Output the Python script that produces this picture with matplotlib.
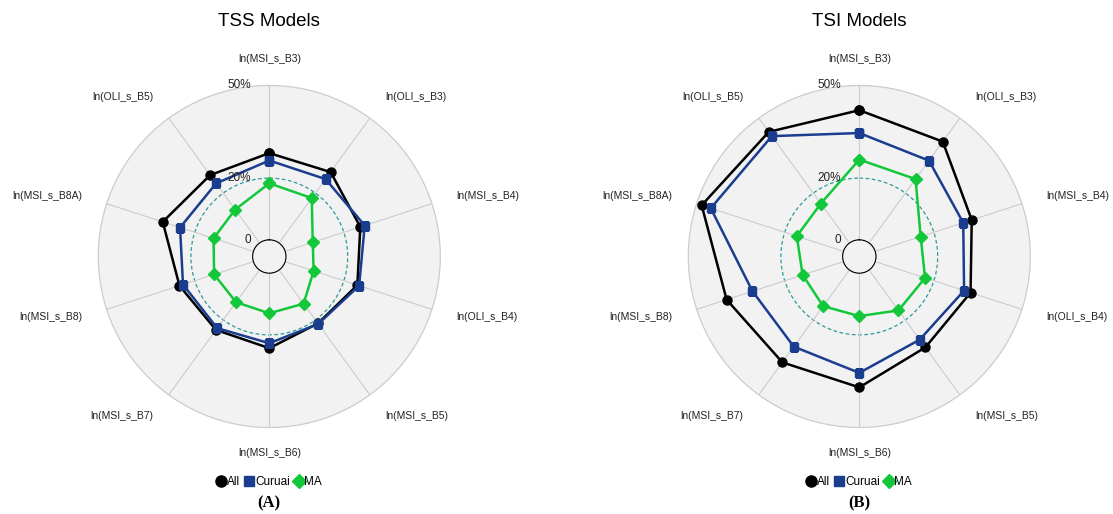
import numpy as np
import matplotlib
matplotlib.use("Agg")
import matplotlib.pyplot as plt
from matplotlib.lines import Line2D
from matplotlib.patches import Ellipse

plt.rcParams['font.family'] = ['Liberation Sans', 'DejaVu Sans']

# categories, clockwise from the top
categories = ['ln(MSI_s_B3)', 'ln(OLI_s_B3)', 'ln(MSI_s_B4)', 'ln(OLI_s_B4)',
              'ln(MSI_s_B5)', 'ln(MSI_s_B6)', 'ln(MSI_s_B7)', 'ln(MSI_s_B8)',
              'ln(MSI_s_B8A)', 'ln(OLI_s_B5)']

# TSS models (%)
tss_all = [28.1, 28.4, 25.6, 24.6, 21.4, 24.3, 24.0, 25.2, 30.9, 27.2]
tss_curuai = [25.7, 25.6, 27.1, 25.2, 21.6, 22.7, 23.3, 24.0, 25.0, 23.9]
tss_ma = [18.3, 18.0, 9.4, 9.7, 13.5, 13.0, 12.9, 13.4, 13.6, 13.4]

# TSI models (%)
tsi_all = [42.0, 40.6, 32.9, 32.5, 31.0, 37.0, 37.0, 39.8, 48.3, 44.5]
tsi_curuai = [34.6, 33.0, 30.0, 30.3, 27.9, 32.3, 30.7, 31.0, 45.2, 42.8]
tsi_ma = [26.0, 25.6, 15.5, 17.0, 16.2, 13.9, 14.5, 13.9, 15.9, 15.8]

col_all = '#000000'
col_cur = '#1b3d8f'
col_ma = '#12c83a'

W, H = 1113, 514
fig = plt.figure(figsize=(W / 100, H / 100), dpi=100)

R_PX = 171.0
RMAX = 50.0
RORIG = -5.4


def radar(cx, cy, title, s_all, s_cur, s_ma, tag):
    # grey disc behind the whole radar (also fills the inner hole)
    fig.add_artist(Ellipse((cx / W, 1 - cy / H), 2 * R_PX / W, 2 * R_PX / H,
                           transform=fig.transFigure, facecolor='#f2f2f2',
                           edgecolor='none', zorder=0))

    ax = fig.add_axes([(cx - R_PX) / W, (H - cy - R_PX) / H, 2 * R_PX / W, 2 * R_PX / H],
                      projection='polar')
    ax.set_theta_zero_location('N')
    ax.set_theta_direction(-1)
    ax.set_ylim(0, RMAX)
    ax.set_rorigin(RORIG)
    ax.set_facecolor('none')

    n = len(categories)
    theta = np.arange(n) * 2 * np.pi / n
    ax.set_xticks(theta)
    ax.set_xticklabels([])
    ax.set_yticks([])
    ax.grid(True, axis='x', color='#cccccc', linewidth=0.8)
    ax.spines['polar'].set_color('#cccccc')
    ax.spines['polar'].set_linewidth(0.9)
    ax.spines['inner'].set_visible(False)

    circ = np.linspace(0, 2 * np.pi, 300)
    ax.plot(circ, np.zeros_like(circ), color='#cccccc', lw=0.9, zorder=1)
    ax.plot(circ, np.full_like(circ, 20), color='#2f9a9a', lw=0.9,
            linestyle=(0, (3, 2)), zorder=1)

    tc = np.append(theta, theta[0])
    for vals, col, mk, ms in [(s_all, col_all, 'o', 6.5),
                              (s_cur, col_cur, 's', 6.0),
                              (s_ma, col_ma, 'D', 6.0)]:
        v = np.append(vals, vals[0])
        ax.plot(tc, v, color=col, lw=1.8, marker=mk, markersize=ms, zorder=3)

    for r, lab in [(0, '0'), (20, '20%'), (50, '50%')]:
        ax.annotate(lab, xy=(0, r), xytext=(-13, 0), textcoords='offset points',
                    ha='right', va='center', fontsize=8.5, color='#222222',
                    annotation_clip=False, zorder=4)

    r_lab = RORIG + (197.0 / R_PX) * (RMAX - RORIG)
    for t, lab in zip(theta, categories):
        s = np.sin(t)
        ha = 'left' if s > 0.01 else ('right' if s < -0.01 else 'center')
        ax.text(t, r_lab, lab, ha=ha, va='center', fontsize=7.5,
                color='#222222', clip_on=False)

    fig.text(cx / W, 1 - 22 / H, title, ha='center', va='center', fontsize=13.5)

    handles = [Line2D([], [], color=col_all, marker='o', ls='none', markersize=8),
               Line2D([], [], color=col_cur, marker='s', ls='none', markersize=7.5),
               Line2D([], [], color=col_ma, marker='D', ls='none', markersize=7.5)]
    fig.legend(handles, ['All', 'Curuai', 'MA'], loc='center',
               bbox_to_anchor=(cx / W, 1 - 482 / H), ncol=3, frameon=False,
               handlelength=0.8, handletextpad=0.1, columnspacing=0.35,
               fontsize=8.5, borderpad=0)
    fig.text(cx / W, 1 - 503 / H, tag, ha='center', va='center', fontsize=12,
             fontweight='bold', family='Liberation Serif')


radar(269.3, 256.5, 'TSS Models', tss_all, tss_curuai, tss_ma, '(A)')
radar(859.3, 256.5, 'TSI Models', tsi_all, tsi_curuai, tsi_ma, '(B)')

fig.savefig('out.png', dpi=100, facecolor='white')
